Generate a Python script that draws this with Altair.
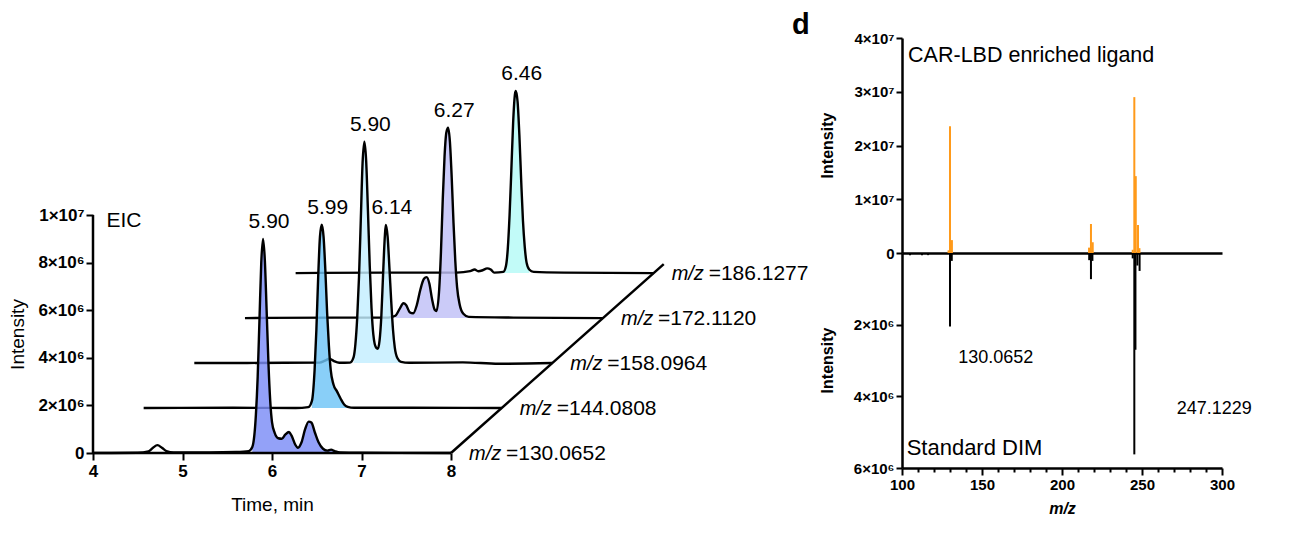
import altair as alt
import pandas as pd

FONT = "Liberation Sans"

# ================= Panel c : extracted ion chromatograms =================
mz_labels = ["130.0652", "144.0808", "158.0964", "172.1120", "186.1277"]
fill_colors = ["#7b8cf7", "#6fc4f6", "#c3eeff", "#bfbff6", "#b5faf6"]

# key points (time in min, intensity in 1e6 counts)
t_130 = [4.00, 4.50, 4.62, 4.67, 4.72, 4.77, 4.82, 4.90, 5.30, 5.60, 5.74, 5.78, 5.82, 5.84,
         5.86, 5.88, 5.90, 5.92, 5.94, 5.96, 5.98, 6.00, 6.03, 6.07, 6.11, 6.15, 6.19, 6.22,
         6.26, 6.29, 6.33, 6.37, 6.41, 6.44, 6.48, 6.52, 6.57, 6.62, 6.66, 6.70, 6.76, 7.00, 8.00]
i_130 = [0.00, 0.01, 0.07, 0.22, 0.33, 0.22, 0.08, 0.02, 0.02, 0.04, 0.08, 0.25, 1.60, 3.20,
         5.60, 8.00, 9.00, 8.10, 6.00, 3.80, 2.20, 1.30, 0.85, 0.62, 0.60, 0.78, 0.88, 0.72,
         0.35, 0.22, 0.45, 1.00, 1.32, 1.28, 0.85, 0.45, 0.18, 0.10, 0.14, 0.08, 0.02, 0.01, 0.00]

t_144 = [4.00, 5.00, 5.70, 5.84, 5.88, 5.91, 5.93, 5.95, 5.97, 5.99, 6.01, 6.03, 6.05, 6.07,
         6.09, 6.12, 6.16, 6.20, 6.24, 6.28, 6.35, 7.00, 8.00]
i_144 = [0.00, 0.01, 0.00, 0.04, 0.30, 1.60, 3.30, 5.50, 7.20, 7.70, 7.20, 5.80, 4.00, 2.60,
         1.60, 1.00, 0.70, 0.40, 0.15, 0.05, 0.01, 0.01, 0.00]

t_158 = [4.00, 5.00, 5.40, 5.46, 5.51, 5.56, 5.62, 5.74, 5.78, 5.80, 5.82, 5.84, 5.86, 5.88,
         5.90, 5.92, 5.94, 5.96, 5.98, 6.00, 6.03, 6.05, 6.07, 6.09, 6.11, 6.13, 6.14, 6.16,
         6.18, 6.20, 6.22, 6.24, 6.27, 6.31, 6.40, 7.00, 7.40, 8.00]
i_158 = [0.00, 0.01, 0.02, 0.10, 0.18, 0.08, 0.01, 0.02, 0.25, 0.80, 1.90, 3.60, 6.00, 8.40,
         9.30, 8.50, 6.40, 4.10, 2.30, 1.20, 0.65, 0.60, 0.95, 2.00, 3.80, 5.40, 5.80, 5.30,
         4.00, 2.60, 1.40, 0.65, 0.20, 0.05, 0.01, 0.03, -0.03, 0.00]

t_172 = [4.00, 5.00, 5.60, 5.68, 5.73, 5.77, 5.80, 5.84, 5.88, 5.92, 5.96, 6.00, 6.03, 6.06,
         6.09, 6.12, 6.14, 6.17, 6.19, 6.21, 6.23, 6.25, 6.27, 6.29, 6.31, 6.33, 6.35, 6.37,
         6.40, 6.44, 6.50, 7.00, 8.00]
i_172 = [0.00, 0.02, 0.02, 0.10, 0.40, 0.62, 0.55, 0.25, 0.20, 0.55, 1.20, 1.65, 1.72, 1.45,
         0.80, 0.35, 0.30, 1.20, 2.80, 5.00, 6.80, 7.80, 8.00, 7.40, 5.90, 4.00, 2.40, 1.30,
         0.55, 0.18, 0.05, 0.02, 0.00]

t_186 = [4.00, 5.00, 5.80, 5.95, 6.00, 6.04, 6.09, 6.14, 6.18, 6.22, 6.32, 6.35, 6.37, 6.39,
         6.41, 6.43, 6.45, 6.46, 6.48, 6.50, 6.52, 6.54, 6.56, 6.58, 6.61, 6.66, 7.00, 8.00]
i_186 = [0.00, 0.02, 0.02, 0.08, 0.15, 0.08, 0.12, 0.20, 0.15, 0.02, 0.05, 0.30, 1.00, 2.40,
         4.30, 6.30, 7.50, 7.65, 7.20, 5.80, 3.90, 2.20, 1.10, 0.45, 0.15, 0.05, 0.02, 0.00]

fill_start = [5.76, 5.86, 5.77, 5.66, 6.31]
fill_end = [6.72, 6.30, 6.31, 6.50, 6.62]

peak_trace = [0, 1, 2, 2, 3, 4]
peak_rt = [5.90, 5.99, 5.90, 6.14, 6.27, 6.46]
peak_height = [9.0, 7.7, 9.3, 5.8, 8.0, 7.65]
peak_text = ["5.90", "5.99", "5.90", "6.14", "6.27", "6.46"]

x_ticks = [4, 5, 6, 7, 8]
y_ticks = [0, 2, 4, 6, 8, 10]
x_axis_span = [4, 8]
y_axis_span = [0, 10]

# pseudo-3D offset between successive traces
DX = 0.566
DY = 1.89

traces_t = [t_130, t_144, t_158, t_172, t_186]
traces_i = [i_130, i_144, i_158, i_172, i_186]
rows = []
for k, (ts, vs) in enumerate(zip(traces_t, traces_i)):
    for t, v in zip(ts, vs):
        rows.append({"k": k, "t": t, "X": t + k * DX, "Y": v + k * DY, "base": k * DY})
df = pd.DataFrame(rows)

xe = alt.X("X:Q", scale=alt.Scale(domain=[4, 12], nice=False, zero=False),
           axis=alt.Axis(values=x_ticks, domain=False, grid=False, tickSize=7, tickWidth=2,
                         tickColor="black", labelFont=FONT, labelFontSize=17, labelFlush=False,
                         labelFontWeight="bold", labelColor="black", labelPadding=3,
                         title="Time, min", titleFont=FONT, titleFontSize=19,
                         titleFontWeight="normal", titleColor="black",
                         titleX=179, titleY=51, titleAlign="center", titleBaseline="middle"))
ye = alt.Y("Y:Q", scale=alt.Scale(domain=[0, 17.44], nice=False, zero=False),
           axis=alt.Axis(values=y_ticks, domain=False, grid=False, tickSize=7, tickWidth=2,
                         tickColor="black", labelFont=FONT, labelFontSize=17, labelFlush=False,
                         labelFontWeight="bold", labelColor="black", labelPadding=2,
                         labelExpr="datum.value == 0 ? '0' : (datum.value == 10 ? '1×10⁷' : datum.value + '×10⁶')",
                         title="Intensity", titleFont=FONT, titleFontSize=19,
                         titleFontWeight="normal", titleColor="black",
                         titleX=-76, titleY=296, titleAlign="center", titleBaseline="middle"))

layers = []
for k in reversed(range(5)):
    dk = df[df.k == k]
    fk = dk[(dk.t >= fill_start[k]) & (dk.t <= fill_end[k])]
    layers.append(alt.Chart(fk).mark_area(interpolate="monotone", color=fill_colors[k],
                                          opacity=0.82).encode(x=xe, y=ye, y2="base:Q"))
    layers.append(alt.Chart(dk).mark_line(interpolate="monotone", color="black",
                                          strokeWidth=2.4).encode(x=xe, y=ye))

# axis lines limited to the 4-8 min / 0-1e7 span, and the depth diagonal
df_xline = pd.DataFrame({"X": [x_axis_span[0]], "X2": [x_axis_span[1]], "Y": [0]})
df_yline = pd.DataFrame({"X": [x_axis_span[0]], "Y": [y_axis_span[0]], "Y2": [y_axis_span[1]]})
depth = 4.2
df_diag = pd.DataFrame({"X": [8], "Y": [0], "X2": [8 + depth * DX], "Y2": [depth * DY]})
layers.append(alt.Chart(df_xline).mark_rule(color="black", strokeWidth=2.5).encode(x=xe, x2="X2:Q", y=ye))
layers.append(alt.Chart(df_yline).mark_rule(color="black", strokeWidth=2.5).encode(x=xe, y=ye, y2="Y2:Q"))
layers.append(alt.Chart(df_diag).mark_rule(color="black", strokeWidth=2.5).encode(x=xe, y=ye, x2="X2:Q", y2="Y2:Q"))

# peak labels
df_peaks = pd.DataFrame({
    "X": [rt + k * DX for rt, k in zip(peak_rt, peak_trace)],
    "Y": [h + k * DY for h, k in zip(peak_height, peak_trace)],
    "txt": peak_text,
})
layers.append(alt.Chart(df_peaks).mark_text(font=FONT, fontSize=21, dx=6, dy=-17,
                                            baseline="middle", align="center", color="black")
              .encode(x=xe, y=ye, text="txt:N"))

# m/z labels at the end of each trace
df_mz = pd.DataFrame({
    "X": [8 + k * DX for k in range(5)],
    "Y": [k * DY for k in range(5)],
    "mz": ["=" + m for m in mz_labels],
    "it": ["m/z"] * 5,
})
layers.append(alt.Chart(df_mz).mark_text(font=FONT, fontSize=20, fontStyle="italic", dx=18, dy=1,
                                         baseline="middle", align="left", color="black")
              .encode(x=xe, y=ye, text="it:N"))
layers.append(alt.Chart(df_mz).mark_text(font=FONT, fontSize=21, dx=55, dy=1,
                                         baseline="middle", align="left", color="black")
              .encode(x=xe, y=ye, text="mz:N"))

df_eic = pd.DataFrame({"X": [4.15], "Y": [9.75], "txt": ["EIC"]})
layers.append(alt.Chart(df_eic).mark_text(font=FONT, fontSize=21, baseline="middle",
                                          align="left", color="black")
              .encode(x=xe, y=ye, text="txt:N"))

left = alt.layer(*layers).properties(width=716, height=415)

# ================= Panel d : mirror MS/MS spectra =================
ORANGE = "#ff9a1a"
mz_lig = [129.1, 130.0, 131.2, 216.9, 218.1, 219.2, 244.2, 245.2, 246.1, 247.5, 248.4]
int_lig = [0.5e6, 2.36e7, 2.4e6, 1.0e6, 5.4e6, 2.0e6, 0.6e6, 2.9e7, 1.43e7, 5.2e6, 0.9e6]

mz_std = [105.0, 112.5, 116.3, 130.0, 131.1, 217.0, 218.1, 219.0, 244.2, 245.2, 245.9, 247.1, 248.5]
int_std = [0.06e6, 0.06e6, 0.06e6, 2.05e6, 0.22e6, 0.2e6, 0.73e6, 0.22e6, 0.15e6, 5.62e6, 2.7e6, 0.35e6, 0.5e6]

top_ticks = [0, 1e7, 2e7, 3e7, 4e7]
bottom_ticks = [2e6, 4e6, 6e6]
mz_ticks = list(range(100, 301, 10))

df_lig = pd.DataFrame({"mz": mz_lig, "I": int_lig, "zero": 0.0})
df_std = pd.DataFrame({"mz": mz_std, "I": int_std, "zero": 0.0})

common_y_axis = dict(grid=False, domainColor="black", domainWidth=2.5, tickColor="black",
                     tickWidth=2, tickSize=6, labelFont=FONT, labelFontSize=15,
                     labelFontWeight="bold", labelColor="black", labelPadding=2,
                     labelFlush=False,
                     title="Intensity", titleFont=FONT, titleFontSize=16,
                     titleFontWeight="bold", titleColor="black", titleX=-75, titleY=107,
                     titleAlign="center", titleBaseline="middle")

xs_top = alt.X("mz:Q", scale=alt.Scale(domain=[100, 300], nice=False, zero=False),
               axis=alt.Axis(labels=False, ticks=False, domain=True, domainColor="black",
                             domainWidth=2.5, grid=False, title=None))
ys_top = alt.Y("I:Q", scale=alt.Scale(domain=[0, 4e7], nice=False),
               axis=alt.Axis(values=top_ticks,
                             labelExpr="datum.value == 0 ? '0' : format(datum.value / 1e7, 'd') + '×10⁷'",
                             **common_y_axis))

top_layers = [
    alt.Chart(df_lig).mark_rule(color=ORANGE, strokeWidth=2).encode(x=xs_top, y=ys_top, y2="zero:Q"),
    alt.Chart(pd.DataFrame({"mz": [103.8], "I": [3.665e7], "txt": ["CAR-LBD enriched ligand"]}))
       .mark_text(font=FONT, fontSize=21.5, align="left", baseline="middle", color="black")
       .encode(x=xs_top, y=ys_top, text="txt:N"),
    alt.Chart(pd.DataFrame({"mz": [31.3], "I": [4.25e7], "txt": ["d"]}))
       .mark_text(font=FONT, fontSize=29, fontWeight="bold", align="left", baseline="middle", color="black")
       .encode(x=xs_top, y=ys_top, text="txt:N"),
]
top = alt.layer(*top_layers).properties(width=320, height=215)

xs_bot = alt.X("mz:Q", scale=alt.Scale(domain=[100, 300], nice=False, zero=False),
               axis=alt.Axis(values=mz_ticks, labelExpr="datum.value % 50 == 0 ? datum.label : ''",
                             domain=True, domainColor="black", domainWidth=2.5, grid=False,
                             tickColor="black", tickWidth=2,
                             tickSize={"condition": {"test": "datum.value % 50 == 0", "value": 7}, "value": 4},
                             labelFont=FONT, labelFontSize=15, labelFontWeight="bold",
                             labelColor="black", labelPadding=2, labelOverlap=False, labelFlush=False,
                             title="m/z", titleFont=FONT, titleFontSize=16, titleFontWeight="bold",
                             titleFontStyle="italic", titleColor="black", titlePadding=8))
ys_bot = alt.Y("I:Q", scale=alt.Scale(domain=[0, 6e6], nice=False, reverse=True),
               axis=alt.Axis(values=bottom_ticks,
                             labelExpr="format(datum.value / 1e6, 'd') + '×10⁶'",
                             **common_y_axis))

ann = pd.DataFrame({"mz": [102.9, 158.6, 271.7], "I": [5.44e6, 2.92e6, 4.35e6],
                    "txt": ["Standard DIM", "130.0652", "247.1229"]})
bottom_layers = [
    alt.Chart(df_std).mark_rule(color="black", strokeWidth=2).encode(x=xs_bot, y=ys_bot, y2="zero:Q"),
    alt.Chart(ann.iloc[[0]]).mark_text(font=FONT, fontSize=22, align="left", baseline="middle", color="black")
       .encode(x=xs_bot, y=ys_bot, text="txt:N"),
    alt.Chart(ann.iloc[[1]]).mark_text(font=FONT, fontSize=18, align="center", baseline="middle", color="black")
       .encode(x=xs_bot, y=ys_bot, text="txt:N"),
    alt.Chart(ann.iloc[[2]]).mark_text(font=FONT, fontSize=18, align="left", baseline="middle", color="black")
       .encode(x=xs_bot, y=ys_bot, text="txt:N"),
]
bottom = alt.layer(*bottom_layers).properties(width=320, height=215)

right = alt.vconcat(top, bottom, spacing=0, bounds="flush")

chart = alt.hconcat(left, right, spacing=93, bounds="flush").properties(
    padding={"left": 0, "top": 2, "right": 5, "bottom": 5}
).configure(font=FONT, background="white").configure_view(stroke=None, strokeWidth=0)

chart.save("out.html", embed_options={"renderer": "svg", "actions": False})
